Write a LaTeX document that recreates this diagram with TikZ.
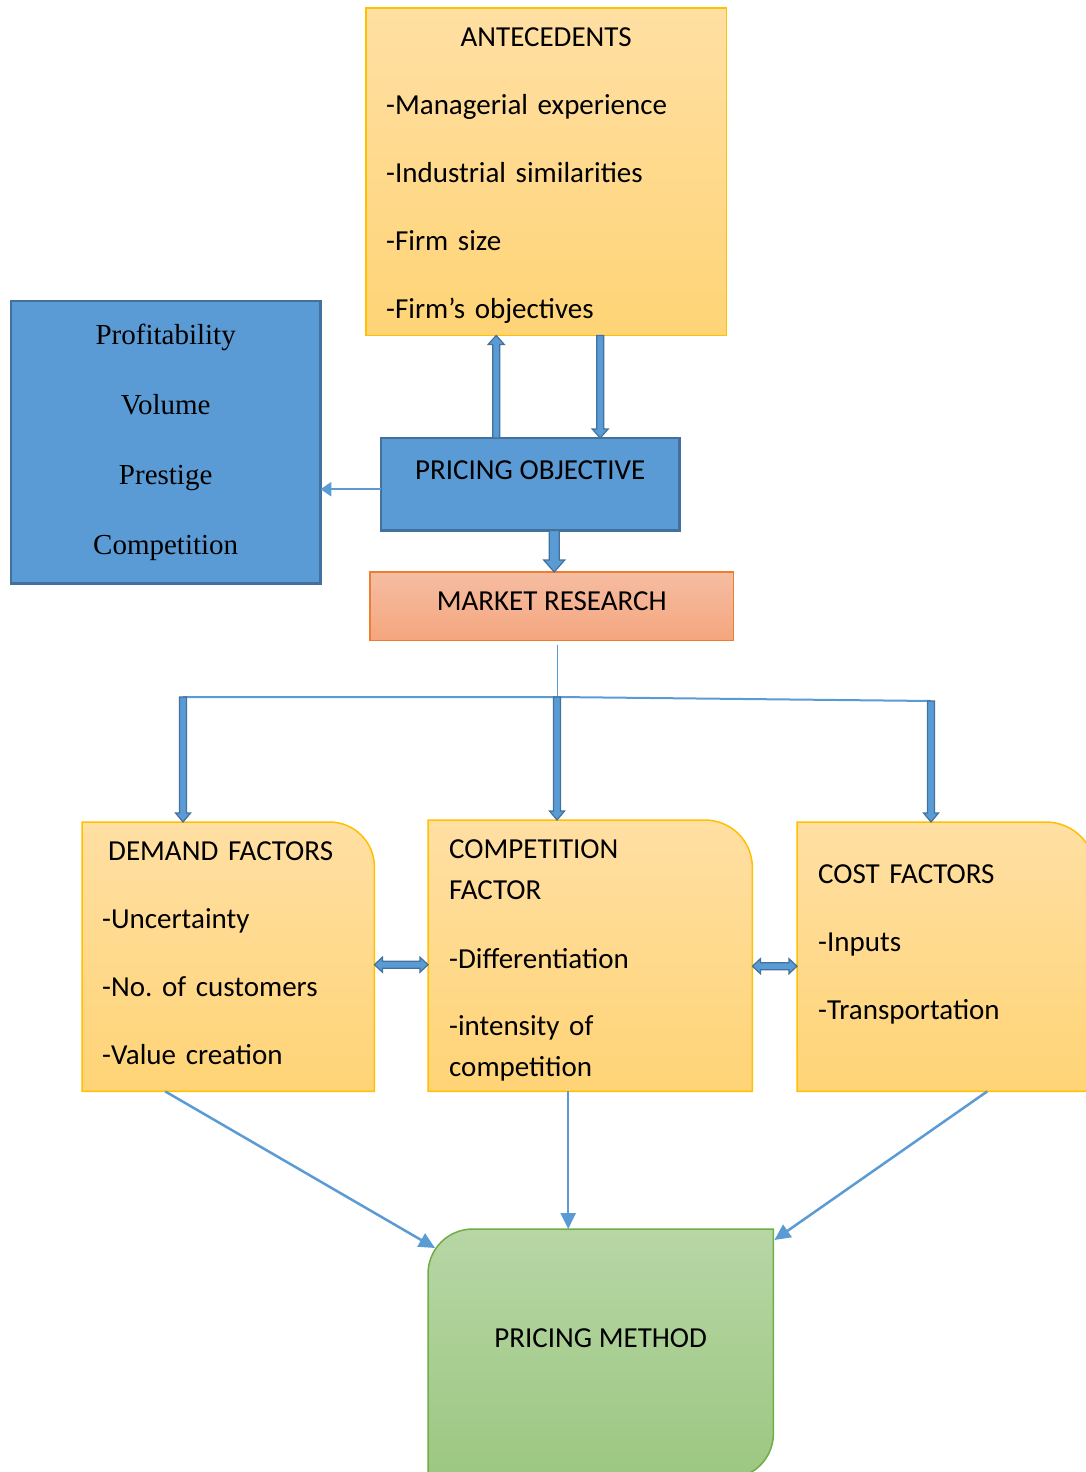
\documentclass[tikz,border=0pt]{standalone}
\usepackage{fontspec}
\setmainfont{Carlito}
\newfontfamily\timesfont{Liberation Serif}
\usetikzlibrary{calc,arrows.meta,backgrounds}

\definecolor{goldline}{HTML}{FFC000}
\definecolor{goldtop}{RGB}{255,223,163}
\definecolor{goldbottom}{RGB}{255,212,118}
\definecolor{bluefill}{HTML}{5B9BD5}
\definecolor{blueline}{HTML}{41719C}
\definecolor{salmontop}{RGB}{246,189,162}
\definecolor{salmonbottom}{RGB}{244,166,126}
\definecolor{orangeline}{HTML}{ED7D31}
\definecolor{greentop}{RGB}{183,214,165}
\definecolor{greenbottom}{RGB}{156,199,129}
\definecolor{greenline}{HTML}{70AD47}

\tikzset{
	flowpicture/.style = {
		x = 1pt,
		y = -1pt,
		font = \fontsize{29}{41}\selectfont\frenchspacing,
		arrow/.style = {
			draw = bluefill,
			line width = 2.5pt,
			-{Triangle[length=16pt, width=15pt]},
		},
		line/.style = {
			draw = bluefill,
		},
		blockarrow/.style = {
			draw = blueline,
			fill = bluefill,
			line width = 1.2pt,
		}
	},
	boxnode/.style = {
		anchor = north west,
		inner sep = 0pt,
		align = left
	},
	goldbox/.style = {
		draw = goldline,
		line width = 1.5pt,
		top color = goldtop,
		bottom color = goldbottom
	},
	bluebox/.style = {
		draw = blueline,
		line width = 2.5pt,
		fill = bluefill
	},
	salmonbox/.style = {
		draw = orangeline,
		line width = 1.5pt,
		top color = salmontop,
		bottom color = salmonbottom
	},
	greenbox/.style = {
		draw = greenline,
		line width = 1.5pt,
		top color = greentop,
		bottom color = greenbottom
	}
}

% block arrow: tail, tip, half shaft, half head, head length
\newcommand\blockarrow[5]{%
	\coordinate (head) at ($(#2)!#5!(#1)$);
	\path[blockarrow] ($(#1)!#3!90:(#2)$) -- ($(head)!#3!-90:(#1)$)
		-- ($(head)!#4!-90:(#1)$) -- (#2) -- ($(head)!#4!90:(#1)$)
		-- ($(head)!#3!90:(#1)$) -- ($(#1)!#3!-90:(#2)$) -- cycle;
}
% same with a head at both ends
\newcommand\dblockarrow[5]{%
	\coordinate (head1) at ($(#1)!#5!(#2)$);
	\coordinate (head2) at ($(#2)!#5!(#1)$);
	\path[blockarrow] (#1) -- ($(head1)!#4!90:(#2)$) -- ($(head1)!#3!90:(#2)$)
		-- ($(head2)!#3!-90:(#1)$) -- ($(head2)!#4!-90:(#1)$) -- (#2)
		-- ($(head2)!#4!90:(#1)$) -- ($(head2)!#3!90:(#1)$)
		-- ($(head1)!#3!-90:(#2)$) -- ($(head1)!#4!-90:(#2)$) -- cycle;
}

\begin{document}
\begin{tikzpicture}[flowpicture]
	\useasboundingbox (0,0) rectangle (1086,1472);

	\node[boxnode, minimum width=360pt, minimum height=327pt, text width=320pt] (A) at (366,8)
		{\mbox{}\\[-14pt]\makebox[320pt]{ANTECEDENTS}\\[27pt]-Managerial experience\\[27pt]-Industrial similarities\\[27pt]-Firm size\\[27pt]-Firm’s objectives};

	\node[boxnode, align=center, minimum width=309pt, minimum height=282pt,
		font=\timesfont\fontsize{29}{34}\selectfont] (B) at (11,301)
		{Profitability\\[36pt]Volume\\[36pt]Prestige\\[36pt]Competition};

	\node[boxnode, minimum width=298pt, minimum height=92pt] (PO) at (381,438)
		{\raisebox{14pt}[\height][\depth]{PRICING OBJECTIVE}};

	\node[boxnode, minimum width=363pt, minimum height=68pt] (MR) at (370,572)
		{\raisebox{5pt}[\height][\depth]{MARKET RESEARCH}};

	\node[boxnode, minimum width=292pt, minimum height=269pt, text width=252pt] (D) at (82,822)
		{\hspace*{6pt}DEMAND FACTORS\\[27pt]-Uncertainty\\[27pt]-No. of customers\\[27pt]-Value creation\\[-33pt]\mbox{}};

	\node[boxnode, minimum width=324pt, minimum height=271pt, text width=282pt] (C) at (428,820)
		{\mbox{}\\[-12pt]COMPETITION\\FACTOR\\[28pt]-Differentiation\\[26pt]-intensity of\\competition};

	\node[boxnode, minimum width=298pt, minimum height=269pt, text width=256pt] (K) at (797,822)
		{COST FACTORS\\[27pt]-Inputs\\[27pt]-Transportation\\[-12pt]\mbox{}};

	\node[boxnode, minimum width=345pt, minimum height=249pt] (M) at (428,1229)
		{\raisebox{16pt}[\height][\depth]{PRICING METHOD}};

	\begin{scope}[on background layer]
		\clip (0,0) rectangle (1086,1472);
		\path[goldbox] (A.north west) rectangle (A.south east);
		\path[bluebox] (B.north west) rectangle (B.south east);
		\path[bluebox] (PO.north west) rectangle (PO.south east);
		\path[salmonbox] (MR.north west) rectangle (MR.south east);
		\path[goldbox] (D.south west) -- (D.north west) -- ([xshift=-45pt]D.north east)
			.. controls ([xshift=-20pt]D.north east) and ([yshift=-20pt]D.north east) .. ([yshift=-45pt]D.north east)
			-- (D.south east) -- cycle;
		\path[goldbox] (C.south west) -- (C.north west) -- ([xshift=-48pt]C.north east)
			.. controls ([xshift=-21pt]C.north east) and ([yshift=-21pt]C.north east) .. ([yshift=-48pt]C.north east)
			-- (C.south east) -- cycle;
		\path[goldbox] (K.south west) -- (K.north west) -- ([xshift=-50pt]K.north east)
			.. controls ([xshift=-22pt]K.north east) and ([yshift=-22pt]K.north east) .. ([yshift=-50pt]K.north east)
			-- (K.south east) -- cycle;
		\path[greenbox] ([yshift=-45pt]M.north west)
			.. controls ([yshift=-20pt]M.north west) and ([xshift=20pt]M.north west) .. ([xshift=45pt]M.north west)
			-- (M.north east) -- ([yshift=45pt]M.south east)
			.. controls ([yshift=20pt]M.south east) and ([xshift=-20pt]M.south east) .. ([xshift=-45pt]M.south east)
			-- (M.south west) -- cycle;
	\end{scope}

	% antecedents <-> pricing objective
	\coordinate (obj up) at ([xshift=-34pt]PO.north);
	\coordinate (ante up) at (obj up |- A.south);
	\blockarrow{obj up}{ante up}{3.5pt}{8pt}{9pt}
	\coordinate (obj down) at ([xshift=70pt]PO.north);
	\coordinate (ante down) at (obj down |- A.south);
	\blockarrow{ante down}{obj down}{3.5pt}{8pt}{9pt}

	\path[arrow, -{Triangle[length=11pt, width=14pt]}] ([yshift=-5pt]PO.west) -- ([yshift=-5pt]PO.west -| B.east);

	\coordinate (obj out) at ([xshift=24pt]PO.south);
	\coordinate (research in) at (obj out |- MR.north);
	\blockarrow{obj out}{research in}{5pt}{10.5pt}{12pt}

	% market research splits to the three factors
	\coordinate (split) at (557,697);
	\coordinate (left end) at (183,697);
	\coordinate (right end) at (931,701);
	\path[line, line width=1pt, shorten <=5pt] (MR.south -| split) -- (split);
	\path[line, line width=2pt] (left end) -- (split) -- (right end);
	\coordinate (demand in) at (left end |- D.north);
	\coordinate (competition in) at (split |- C.north);
	\coordinate (cost in) at (right end |- K.north);
	\blockarrow{left end}{demand in}{3.5pt}{7.5pt}{9pt}
	\blockarrow{split}{competition in}{3.5pt}{7.5pt}{9pt}
	\blockarrow{right end}{cost in}{3.5pt}{7.5pt}{9pt}

	\coordinate (dc left) at ([yshift=-8pt]D.east);
	\coordinate (dc right) at (dc left -| C.west);
	\dblockarrow{dc left}{dc right}{3.5pt}{7.5pt}{8pt}
	\coordinate (ck left) at ([yshift=-10.5pt]C.east);
	\coordinate (ck right) at (ck left -| K.west);
	\dblockarrow{ck left}{ck right}{3.5pt}{7.5pt}{8pt}

	% factors to pricing method
	\path[arrow] ([xshift=-63pt]D.south) -- ([xshift=7pt, yshift=-19pt]M.north west);
	\path[arrow] ([xshift=-22pt]C.south) -- ([xshift=-22pt]C.south |- M.north);
	\path[arrow] ([xshift=41pt]K.south) -- ([xshift=1pt, yshift=-11pt]M.north east);
\end{tikzpicture}
\end{document}
